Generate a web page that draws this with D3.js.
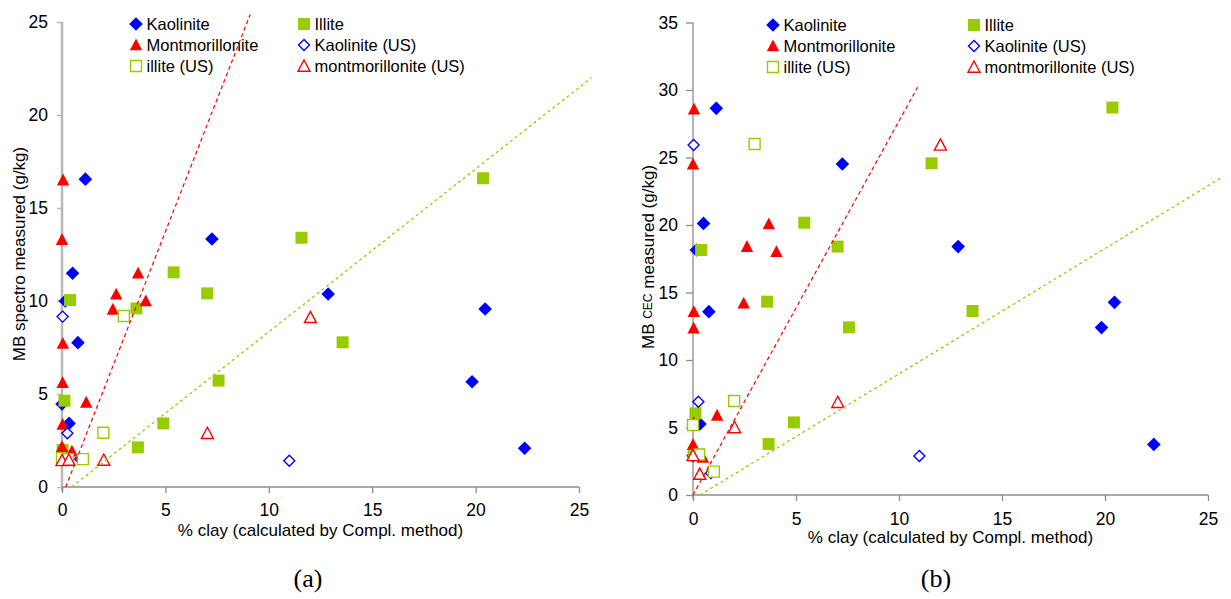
<!DOCTYPE html>
<html>
<head>
<meta charset="utf-8">
<script src="https://cdn.jsdelivr.net/npm/d3@7"></script>
<style>
  html, body { margin: 0; padding: 0; background: #fff; }
  svg { display: block; font-family: Arial, "Liberation Sans", sans-serif; }
</style>
</head>
<body>
<svg id="chart" width="1231" height="599"></svg>
<script>
// ---------- data ----------
const seriesNames = ["Kaolinite", "Illite", "Montmorillonite", "Kaolinite (US)", "illite (US)", "montmorillonite (US)"];

const kaoliniteX       = [1.13, 7.25, 0.51, 0.16, 0.77, 0.0, 0.34, 12.87, 20.46, 19.83, 22.37];
const kaoliniteSpectro = [16.55, 13.33, 11.49, 10.0, 7.76, 4.46, 3.42, 10.38, 9.57, 5.66, 2.08];
const kaoliniteCEC     = [28.64, 24.52, 20.12, 18.15, 13.58, 2.9, 5.26, 18.4, 14.27, 12.4, 3.75];

const illiteX       = [20.36, 11.58, 5.4, 7.02, 0.39, 3.6, 7.57, 13.57, 0.12, 4.9, 3.67, 0.03];
const illiteSpectro = [16.6, 13.4, 11.54, 10.41, 10.05, 9.6, 5.72, 7.78, 4.64, 3.42, 2.13, 1.99];
const illiteCEC     = [28.7, 24.57, 20.17, 18.4, 18.15, 14.32, 12.42, 13.63, 6.05, 5.38, 3.78, 2.95];

const montX       = [0.05, 0.0, 3.68, 2.62, 4.05, 2.46, 0.04, 0.03, 1.17, 0.03, 0.0, 0.48];
const montSpectro = [16.5, 13.3, 11.49, 10.36, 10.0, 9.55, 7.72, 5.61, 4.55, 3.36, 2.17, 1.92];
const montCEC     = [28.57, 24.5, 20.07, 18.4, 18.02, 14.2, 13.58, 12.35, 5.9, 5.36, 3.75, 2.79];

const kaoUSX       = [0.03, 0.26, 0.87, 10.99];
const kaoUSSpectro = [9.16, 2.89, 1.5, 1.41];
const kaoUSCEC     = [25.93, 6.91, 1.62, 2.89];

const illUSX       = [2.99, 2.0, 0.0, 0.29, 1.01];
const illUSSpectro = [9.19, 2.92, 1.55, 1.5, 1.5];
const illUSCEC     = [26.0, 6.96, 5.19, 3.0, 1.73];

const montUSX       = [12.01, 7.03, 2.02, 0.0, 0.33];
const montUSSpectro = [9.12, 2.89, 1.45, 1.43, 1.45];
const montUSCEC     = [25.93, 6.87, 5.0, 2.93, 1.55];

// dashed reference lines: [x, y] end points
const redLineA   = [[0.18, 0], [9.1, 25.4]];
const greenLineA = [[0.47, 0], [25.6, 22.0]];
const redLineB   = [[0.0, 0], [10.9, 30.2]];
const greenLineB = [[0.34, 0], [25.6, 23.46]];

const xTicks  = [0, 5, 10, 15, 20, 25];
const yTicksA = [0, 5, 10, 15, 20, 25];
const yTicksB = [0, 5, 10, 15, 20, 25, 30, 35];

// ---------- styles ----------
const BLUE = "#0000ff", RED = "#ff0000", GREEN = "#99cc00";
const FONT = "Arial, Liberation Sans, sans-serif";
const seriesStyle = {
  "Kaolinite":            { shape: "diamond",  fill: BLUE,  stroke: "none" },
  "Illite":               { shape: "square",   fill: GREEN, stroke: "none" },
  "Montmorillonite":      { shape: "triangle", fill: RED,   stroke: "none" },
  "Kaolinite (US)":       { shape: "diamond",  fill: "#fff", stroke: BLUE,  open: true },
  "illite (US)":          { shape: "square",   fill: "#fff", stroke: GREEN, open: true },
  "montmorillonite (US)": { shape: "triangle", fill: "#fff", stroke: RED,   open: true }
};

function markerPath(shape, open) {
  const p = d3.path();
  if (shape === "diamond") {
    const r = open ? 5.5 : 6.8;
    p.moveTo(0, -r); p.lineTo(r, 0); p.lineTo(0, r); p.lineTo(-r, 0); p.closePath();
  } else if (shape === "square") {
    const h = open ? 5.5 : 6.0;
    p.rect(-h, -h, 2 * h, 2 * h);
  } else {
    const w = open ? 6.0 : 6.2, h1 = open ? 6.0 : 6.5, h2 = open ? 5.2 : 5.3;
    p.moveTo(0, -h1); p.lineTo(w, h2); p.lineTo(-w, h2); p.closePath();
  }
  return p.toString();
}

const svg = d3.select("#chart");
svg.append("rect").attr("width", 1231).attr("height", 599).attr("fill", "#fff");

function drawPanel(cfg) {
  const g = svg.append("g");
  const x = d3.scaleLinear().domain([0, 25]).range(cfg.xRange);
  const y = d3.scaleLinear().domain([0, cfg.yMax]).range(cfg.yRange);

  // y axis
  const yAxis = g.append("g").attr("transform", `translate(${cfg.xRange[0]},0)`)
    .call(d3.axisLeft(y).tickValues(cfg.yTicks).tickSize(cfg.yTickLen).tickPadding(cfg.yPad).tickFormat(d3.format("d")));
  yAxis.select(".domain").attr("stroke", cfg.yAxisColor).attr("stroke-width", cfg.yAxisWidth)
    .attr("d", `M0,${cfg.yRange[0] + 4}V${cfg.yRange[1]}`);
  yAxis.selectAll(".tick line").attr("stroke", cfg.yAxisColor).attr("stroke-width", cfg.yTickWidth);
  yAxis.selectAll(".tick text").attr("font-size", 17.5).attr("fill", "#000").attr("font-family", FONT);

  // x axis
  const xAxis = g.append("g").attr("transform", `translate(0,${cfg.yRange[0]})`)
    .call(d3.axisBottom(x).tickValues(xTicks).tickSize(6).tickPadding(cfg.xPad).tickFormat(d3.format("d")));
  xAxis.select(".domain").attr("stroke", "#8c8c8c").attr("stroke-width", 1.3)
    .attr("d", `M${cfg.xRange[0]},0H${cfg.xRange[1]}`);
  xAxis.selectAll(".tick line").attr("stroke", "#8c8c8c").attr("stroke-width", 1.3);
  xAxis.selectAll(".tick text").attr("font-size", 17.5).attr("fill", "#000").attr("font-family", FONT);

  // series
  const groups = [
    ["Kaolinite", kaoliniteX, cfg.kao],
    ["Illite", illiteX, cfg.ill],
    ["Montmorillonite", montX, cfg.mont],
    ["Kaolinite (US)", kaoUSX, cfg.kaoUS],
    ["illite (US)", illUSX, cfg.illUS],
    ["montmorillonite (US)", montUSX, cfg.montUS]
  ];
  groups.forEach(([name, xs, ys]) => {
    const st = seriesStyle[name];
    const pts = xs.map((v, i) => [v, ys[i]]);
    g.append("g").selectAll("path").data(pts).join("path")
      .attr("d", markerPath(st.shape, st.open))
      .attr("transform", d => `translate(${x(d[0])},${y(d[1])})`)
      .attr("fill", st.fill)
      .attr("stroke", st.stroke)
      .attr("stroke-width", st.open ? 1.4 : 0);
  });

  // dashed lines
  const line = d3.line().x(d => x(d[0])).y(d => y(d[1]));
  g.append("path").attr("d", line(cfg.redLine)).attr("fill", "none")
    .attr("stroke", RED).attr("stroke-width", 1.2).attr("stroke-dasharray", "4,3");
  g.append("path").attr("d", line(cfg.greenLine)).attr("fill", "none")
    .attr("stroke", GREEN).attr("stroke-width", 1.3).attr("stroke-dasharray", "3,3");

  // axis titles
  g.append("text").attr("x", (cfg.xRange[0] + cfg.xRange[1]) / 2).attr("y", cfg.xTitleY)
    .attr("text-anchor", "middle").attr("dominant-baseline", "central")
    .attr("font-size", 17).attr("font-family", FONT).text("% clay (calculated by Compl. method)");

  const yt = g.append("text")
    .attr("transform", `translate(${cfg.yTitleX},${cfg.yTitleY}) rotate(-90)`)
    .attr("text-anchor", "middle").attr("dominant-baseline", "central")
    .attr("font-size", 17).attr("font-family", FONT);
  cfg.yTitle.forEach(([t, fs]) => yt.append("tspan").attr("font-size", fs).text(t));

  // panel label
  svg.append("text").attr("x", cfg.labelX).attr("y", 578)
    .attr("text-anchor", "middle").attr("dominant-baseline", "central")
    .attr("font-family", "Times New Roman, Liberation Serif, serif").attr("font-size", 26)
    .text(cfg.label);

  // legend
  const lg = g.append("g");
  const cols = [[0, 2, 4], [1, 3, 5]];
  cols.forEach((col, ci) => {
    col.forEach((si, ri) => {
      const name = seriesNames[si], st = seriesStyle[name];
      const cy = cfg.legRows[ri];
      lg.append("path").attr("d", markerPath(st.shape, st.open))
        .attr("transform", `translate(${cfg.legMarkX[ci]},${cy})`)
        .attr("fill", st.fill).attr("stroke", st.stroke).attr("stroke-width", st.open ? 1.4 : 0);
      lg.append("text").attr("x", cfg.legMarkX[ci] + 10.5).attr("y", cy)
        .attr("dominant-baseline", "central").attr("font-size", 16.5)
        .attr("font-family", FONT).text(name);
    });
  });
}

drawPanel({
  xRange: [62, 579], yRange: [487, 22], yMax: 25, yTicks: yTicksA,
  yTickLen: 5, yPad: 9, yAxisColor: "#b8b8b8", yAxisWidth: 2.5, yTickWidth: 1.5, xPad: 11,
  kao: kaoliniteSpectro, ill: illiteSpectro, mont: montSpectro,
  kaoUS: kaoUSSpectro, illUS: illUSSpectro, montUS: montUSSpectro,
  redLine: redLineA, greenLine: greenLineA,
  xTitleY: 530, yTitleX: 19, yTitleY: 254,
  yTitle: [["MB spectro measured (g/kg)", 17]],
  label: "(a)", labelX: 308,
  legMarkX: [136, 304], legRows: [24, 45, 66]
});

drawPanel({
  xRange: [693, 1208], yRange: [495, 22.5], yMax: 35, yTicks: yTicksB,
  yTickLen: 7, yPad: 8, yAxisColor: "#8c8c8c", yAxisWidth: 1.3, yTickWidth: 1.3, xPad: 12,
  kao: kaoliniteCEC, ill: illiteCEC, mont: montCEC,
  kaoUS: kaoUSCEC, illUS: illUSCEC, montUS: montUSCEC,
  redLine: redLineB, greenLine: greenLineB,
  xTitleY: 537, yTitleX: 648, yTitleY: 257,
  yTitle: [["MB ", 17], ["CEC", 12], [" measured (g/kg)", 17]],
  label: "(b)", labelX: 936,
  legMarkX: [773, 974], legRows: [25, 46, 67]
});
</script>
</body>
</html>
